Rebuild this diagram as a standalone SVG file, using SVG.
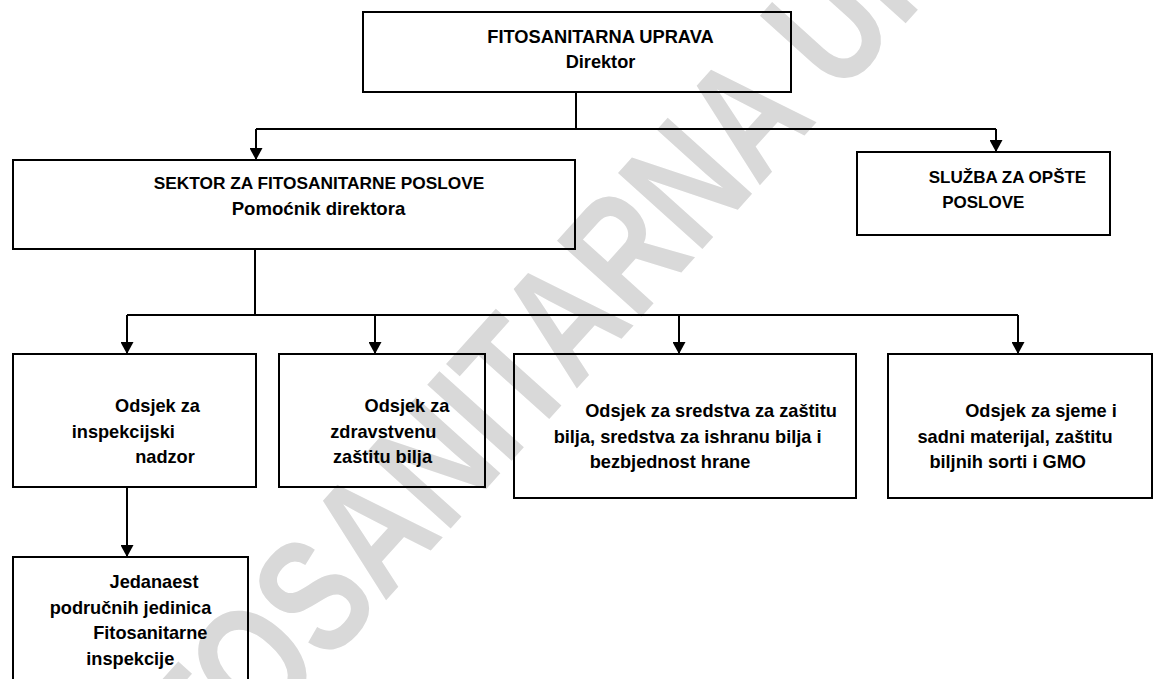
<svg xmlns="http://www.w3.org/2000/svg" width="1154" height="679" viewBox="0 0 1154 679">
<defs>
<style>
.box{fill:none;stroke:#000;stroke-width:2}
.t{font-family:"Liberation Sans",Arial,sans-serif;font-weight:bold;font-size:18.2px;fill:#000;text-anchor:middle}
.wm{font-family:"Liberation Sans",Arial,sans-serif;font-weight:bold;font-size:165px;fill:#d9d9d9}
.ln{fill:none;stroke:#000;stroke-width:2}
</style>
<marker id="ah" markerUnits="userSpaceOnUse" markerWidth="13" markerHeight="13" refX="12" refY="6.5" orient="auto">
<path d="M0,0 L12,6.5 L0,13 z" fill="#000"/>
</marker>
</defs>
<rect width="1154" height="679" fill="#fff"/>
<text class="wm" transform="translate(137,877) rotate(-48) scale(0.765,1)">FITOSANITARNA UPRAVA</text>
<g id="connectors">
<path class="ln" d="M576,92 V129 M256,129 H996"/>
<path class="ln" d="M256,129 V160" marker-end="url(#ah)"/>
<path class="ln" d="M996,129 V152" marker-end="url(#ah)"/>
<path class="ln" d="M255,249 V315 M127,315 H1018"/>
<path class="ln" d="M127,315 V354" marker-end="url(#ah)"/>
<path class="ln" d="M375,315 V354" marker-end="url(#ah)"/>
<path class="ln" d="M679,315 V354" marker-end="url(#ah)"/>
<path class="ln" d="M1018,315 V354" marker-end="url(#ah)"/>
<path class="ln" d="M127,487 V557" marker-end="url(#ah)"/>
</g>
<g id="uprava">
<rect class="box" x="363" y="12" width="428" height="80"/>
<text class="t" x="600.5" y="43" style="font-size:18.3px">FITOSANITARNA UPRAVA</text>
<text class="t" x="600.5" y="68">Direktor</text>
</g>
<g id="sektor">
<rect class="box" x="13" y="160" width="562" height="89"/>
<text class="t" x="319" y="189" style="font-size:17.3px">SEKTOR ZA FITOSANITARNE POSLOVE</text>
<text class="t" x="318.5" y="215" style="font-size:18.6px">Pomoćnik direktora</text>
</g>
<g id="sluzba">
<rect class="box" x="857" y="152" width="253" height="83"/>
<text class="t" x="1007.5" y="183" style="font-size:17px">SLUŽBA ZA OPŠTE</text>
<text class="t" x="983.3" y="208" style="font-size:17px">POSLOVE</text>
</g>
<g id="odsjek-nadzor">
<rect class="box" x="13" y="354" width="243" height="133"/>
<text class="t" x="157.5" y="412">Odsjek za</text>
<text class="t" x="123.3" y="438">inspekcijski</text>
<text class="t" x="165" y="463">nadzor</text>
</g>
<g id="odsjek-zdravstvenu">
<rect class="box" x="279" y="354" width="206" height="133"/>
<text class="t" x="407" y="412">Odsjek za</text>
<text class="t" x="383.3" y="438">zdravstvenu</text>
<text class="t" x="382.5" y="463">zaštitu bilja</text>
</g>
<g id="odsjek-sredstva">
<rect class="box" x="514" y="354" width="342" height="144"/>
<text class="t" x="711" y="417">Odsjek za sredstva za zaštitu</text>
<text class="t" x="687.6" y="443">bilja, sredstva za ishranu bilja i</text>
<text class="t" x="670" y="468">bezbjednost hrane</text>
</g>
<g id="odsjek-sjeme">
<rect class="box" x="888" y="354" width="264" height="144"/>
<text class="t" x="1041" y="417">Odsjek za sjeme i</text>
<text class="t" x="1015" y="443">sadni materijal, zaštitu</text>
<text class="t" x="1007.7" y="468">biljnih sorti i GMO</text>
</g>
<g id="jedinice">
<rect class="box" x="13" y="557" width="235" height="140"/>
<text class="t" x="154" y="588">Jedanaest</text>
<text class="t" x="130.5" y="614">područnih jedinica</text>
<text class="t" x="150.3" y="639">Fitosanitarne</text>
<text class="t" x="130.3" y="665">inspekcije</text>
</g>
</svg>
